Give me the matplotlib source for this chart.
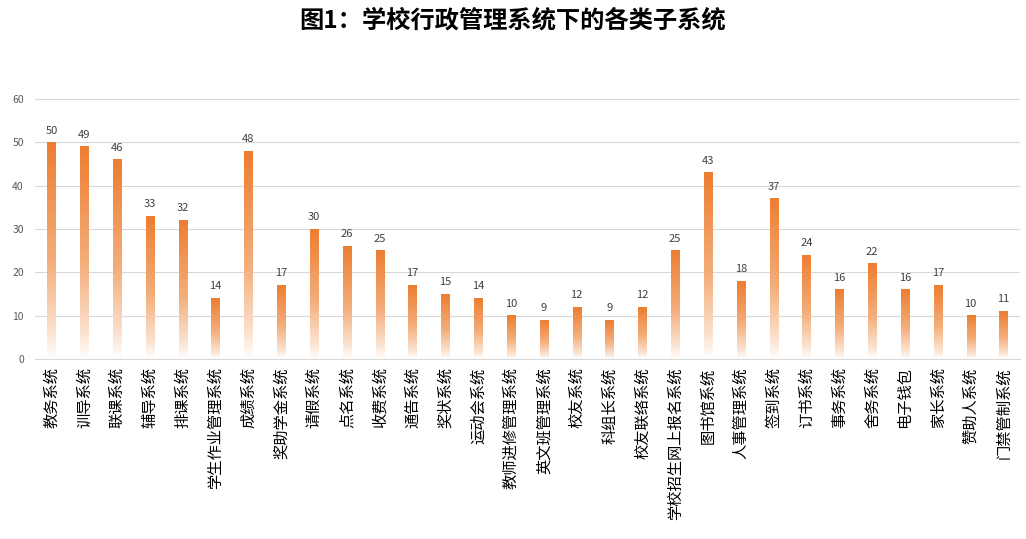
import numpy as np
import matplotlib.pyplot as plt
from matplotlib.colors import LinearSegmentedColormap

plt.rcParams['font.family'] = ['Noto Sans CJK SC', 'DejaVu Sans']

categories = ['教务系统', '训导系统', '联课系统', '辅导系统', '排课系统', '学生作业管理系统',
              '成绩系统', '奖助学金系统', '请假系统', '点名系统', '收费系统', '通告系统',
              '奖状系统', '运动会系统', '教师进修管理系统', '英文班管理系统', '校友系统',
              '科组长系统', '校友联络系统', '学校招生网上报名系统', '图书馆系统', '人事管理系统',
              '签到系统', '订书系统', '事务系统', '舍务系统', '电子钱包', '家长系统',
              '赞助人系统', '门禁管制系统']
values = [50, 49, 46, 33, 32, 14, 48, 17, 30, 26, 25, 17, 15, 14, 10, 9, 12, 9, 12, 25,
          43, 18, 37, 24, 16, 22, 16, 17, 10, 11]
yticks = [0, 10, 20, 30, 40, 50, 60]

fig = plt.figure(figsize=(10.26, 5.39), dpi=100)
ax = fig.add_axes([0.0341, 0.334, 0.9600, 0.482])

# gradient: white at the base, orange at the top of each bar
cmap = LinearSegmentedColormap.from_list(
    'bar', [(0.0, '#FFFFFF'), (0.12, '#FBE3D1'), (0.45, '#F4AE7A'), (1.0, '#ED7D31')])
grad = np.linspace(0, 1, 256).reshape(-1, 1)

x = np.arange(len(categories))
w = 0.25
bars = ax.bar(x, values, width=w, color='none', zorder=3)
for xi, v in zip(x, values):
    ax.imshow(grad, cmap=cmap, origin='lower', aspect='auto',
              extent=(xi - w / 2, xi + w / 2, 0, v), zorder=3, interpolation='bilinear')
    ax.text(xi, v + 1.6, str(v), ha='center', va='bottom', fontsize=8, color='#404040')

ax.set_xlim(-0.5, len(categories) - 0.5)
ax.set_ylim(0, 60)
ax.set_yticks(yticks)
ax.set_xticks(x)
ax.set_xticklabels(categories, rotation=90, fontsize=11, color='#000000')
ax.tick_params(axis='y', labelsize=7.5, labelcolor='#595959', length=0, pad=8)
ax.tick_params(axis='x', length=0, pad=6)
ax.yaxis.grid(True, color='#D9D9D9', linewidth=0.8, zorder=0)
ax.set_axisbelow(True)
for s in ['top', 'right', 'left']:
    ax.spines[s].set_visible(False)
ax.spines['bottom'].set_color('#D9D9D9')
ax.spines['bottom'].set_zorder(4)

fig.text(0.5, 0.962, '图1：学校行政管理系统下的各类子系统', ha='center', va='center',
         fontsize=17.5, fontweight='bold', color='#000000')

fig.savefig('out.png', dpi=100)
